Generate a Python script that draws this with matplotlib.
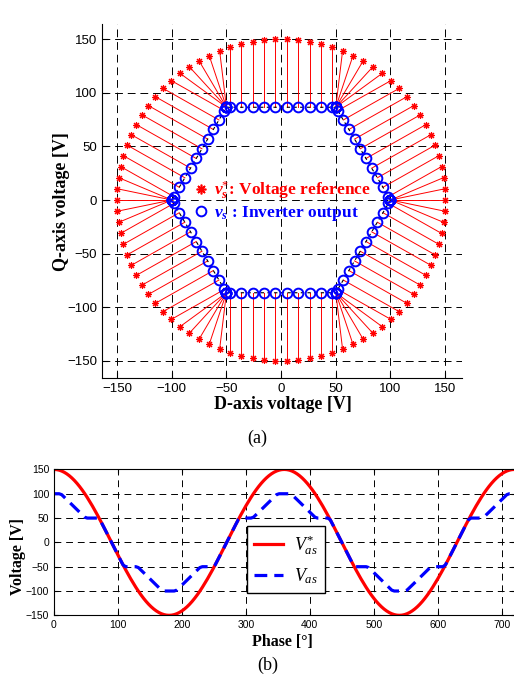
import numpy as np
import matplotlib
matplotlib.use("Agg")
import matplotlib.pyplot as plt
from matplotlib.lines import Line2D

plt.rcParams["mathtext.fontset"] = "custom"
plt.rcParams["mathtext.rm"] = "Liberation Serif"
plt.rcParams["mathtext.it"] = "Liberation Serif:italic"
plt.rcParams["mathtext.bf"] = "Liberation Serif:bold"
plt.rcParams["mathtext.bfit"] = "Liberation Serif:italic:bold"

# reference vector samples (every 4 deg)
ref_angles_deg = [
    0, 4, 8, 12, 16, 20, 24, 28, 32, 36, 40, 44, 48, 52, 56, 60, 64, 68,
    72, 76, 80, 84, 88, 92, 96, 100, 104, 108, 112, 116, 120, 124, 128, 132,
    136, 140, 144, 148, 152, 156, 160, 164, 168, 172, 176, 180, 184, 188,
    192, 196, 200, 204, 208, 212, 216, 220, 224, 228, 232, 236, 240, 244,
    248, 252, 256, 260, 264, 268, 272, 276, 280, 284, 288, 292, 296, 300,
    304, 308, 312, 316, 320, 324, 328, 332, 336, 340, 344, 348, 352, 356,
]
ref_magnitude = 150.0

# voltage hexagon vertices (D, Q)
hex_d = [100.0, 50.0, -50.0, -100.0, -50.0, 50.0]
hex_q = [0.0, 86.6, 86.6, 0.0, -86.6, -86.6]

ticks_top = [-150, -100, -50, 0, 50, 100, 150]
ticks_phase = [0, 100, 200, 300, 400, 500, 600, 700]
ticks_volt = [-150, -100, -50, 0, 50, 100, 150]

RED = "#ff0000"
BLUE = "#0000ff"
SERIF = "Liberation Serif"
SANS = "Liberation Sans"


def project_to_hexagon(px, py):
    # nearest point on the hexagon boundary
    best = None
    n = len(hex_d)
    for i in range(n):
        ax_, ay_ = hex_d[i], hex_q[i]
        bx_, by_ = hex_d[(i + 1) % n], hex_q[(i + 1) % n]
        dx, dy = bx_ - ax_, by_ - ay_
        t = ((px - ax_) * dx + (py - ay_) * dy) / (dx * dx + dy * dy)
        t = min(max(t, 0.0), 1.0)
        cx, cy = ax_ + t * dx, ay_ + t * dy
        dist = (px - cx) ** 2 + (py - cy) ** 2
        if best is None or dist < best[0]:
            best = (dist, cx, cy)
    return best[1], best[2]


th = np.radians(ref_angles_deg)
ref_d = ref_magnitude * np.cos(th)
ref_q = ref_magnitude * np.sin(th)
out = [project_to_hexagon(x, y) for x, y in zip(ref_d, ref_q)]
out_d = np.array([p[0] for p in out])
out_q = np.array([p[1] for p in out])

fig = plt.figure(figsize=(5.14, 6.77), dpi=100)

# ---------------- (a) D-Q plane ----------------
ax1 = fig.add_axes([0.198, 0.4412, 0.701, 0.5228])
for xs, ys, xe, ye in zip(ref_d, ref_q, out_d, out_q):
    ax1.plot([xs, xe], [ys, ye], color=RED, lw=0.7, zorder=2)
ax1.plot(hex_d + hex_d[:1], hex_q + hex_q[:1], color="black", lw=0.8,
         dashes=(3, 3), zorder=3)
ax1.plot(ref_d, ref_q, ls="none", marker=(8, 2, 0), ms=5, mew=0.8,
         color=RED, zorder=4)
ax1.plot(out_d, out_q, ls="none", marker="o", ms=7, mew=1.4,
         mfc="none", mec=BLUE, zorder=4)

ax1.set_xlim(-164, 165.5)
ax1.set_ylim(-166.5, 164)
ax1.set_xticks(ticks_top)
ax1.set_yticks(ticks_top)
ax1.grid(True, color="black", lw=0.7, dashes=(8, 5))
ax1.set_axisbelow(True)
for s in ("top", "right"):
    ax1.spines[s].set_visible(False)
ax1.tick_params(direction="in", length=4, labelsize=9.5)
for lab in ax1.get_xticklabels() + ax1.get_yticklabels():
    lab.set_fontfamily(SANS)
ax1.set_xlabel("D-axis voltage [V]", fontfamily=SERIF, fontweight="bold",
               fontsize=13, va="center")
ax1.set_ylabel("Q-axis voltage [V]", fontfamily=SERIF, fontweight="bold",
               fontsize=13, va="center")
ax1.xaxis.set_label_coords(0.503, -0.075)
ax1.yaxis.set_label_coords(-0.113, 0.499)

h_ref = Line2D([], [], ls="none", marker=(8, 2, 0), ms=7, mew=1.2, color=RED)
h_out = Line2D([], [], ls="none", marker="o", ms=7, mew=1.4, mfc="none",
               mec=BLUE)
leg1 = ax1.legend([h_ref, h_out],
                  [r"$\mathbfit{v}_{\mathbfit{s}}^{*}$: Voltage reference",
                   r"$\mathbfit{v}_{\mathbfit{s}}$ : Inverter output"],
                  loc="center left", bbox_to_anchor=(0.255, 0.5),
                  frameon=False, handlelength=0.8, handletextpad=0.4,
                  labelspacing=0.15, borderpad=0, borderaxespad=0,
                  prop={"family": SERIF, "weight": "bold", "size": 12.5},
                  labelcolor=[RED, BLUE])

fig.text(0.5, 1 - 438 / 677, "(a)", ha="center", va="center",
         fontfamily=SERIF, fontsize=13)

# ---------------- (b) phase voltage ----------------
phase = np.concatenate([ref_angles_deg, np.array(ref_angles_deg) + 360, [720]])
v_ref = np.concatenate([ref_d, ref_d, ref_d[:1]])
v_out = np.concatenate([out_d, out_d, out_d[:1]])

ax2 = fig.add_axes([0.105, 0.0911, 0.896, 0.2155])
ax2.plot(phase, v_ref, color=RED, lw=2.3, label=r"$V_{as}^{*}$")
ax2.plot(phase, v_out, color=BLUE, lw=2.3, dashes=(4, 2.2),
         label=r"$V_{as}$")
ax2.set_xlim(0, 720)
ax2.set_ylim(-150, 150)
ax2.set_xticks(ticks_phase)
ax2.set_yticks(ticks_volt)
ax2.grid(True, color="black", lw=0.7, dashes=(7, 5))
ax2.set_axisbelow(True)
ax2.tick_params(direction="in", length=3, labelsize=7.5, top=True,
                right=True)
for lab in ax2.get_xticklabels() + ax2.get_yticklabels():
    lab.set_fontfamily(SANS)
ax2.set_xlabel("Phase [\u00b0]", fontfamily=SERIF, fontweight="bold",
               fontsize=11.5, va="center")
ax2.set_ylabel("Voltage [V]", fontfamily=SERIF, fontweight="bold",
               fontsize=11.5, va="center")
ax2.xaxis.set_label_coords(0.497, -0.181)
ax2.yaxis.set_label_coords(-0.078, 0.40)
leg2 = ax2.legend(loc="lower left", bbox_to_anchor=(0.419, 0.153),
                  fancybox=False, edgecolor="black", framealpha=1,
                  handlelength=1.6, handletextpad=0.6, borderaxespad=0,
                  prop={"family": SERIF, "size": 13})
leg2.get_frame().set_linewidth(1.0)

fig.text(268 / 514, 1 - 665 / 677, "(b)", ha="center", va="center",
         fontfamily=SERIF, fontsize=13)

fig.savefig("out.png", dpi=100)
